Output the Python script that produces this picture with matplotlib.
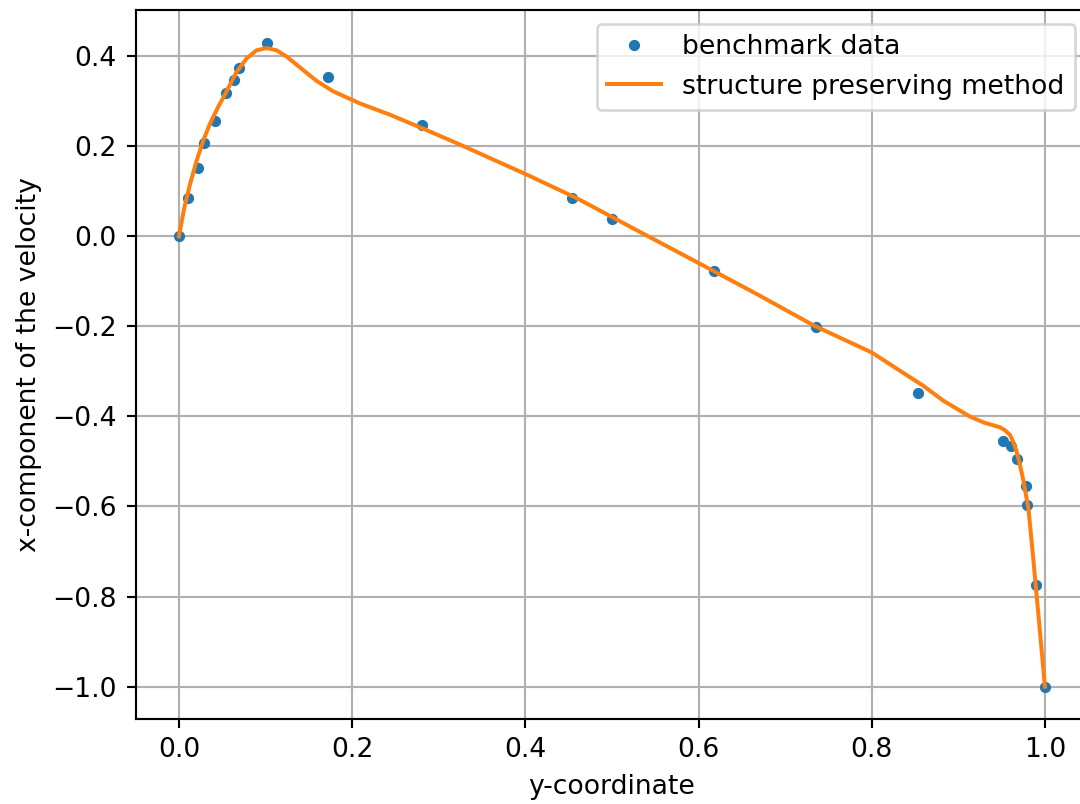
import matplotlib
matplotlib.use('Agg')
import matplotlib.pyplot as plt

# benchmark points
bench_y = [0.0, 0.0107, 0.0223, 0.0292, 0.0416, 0.0543, 0.0639, 0.0693, 0.1012,
           0.1717, 0.281, 0.4534, 0.5, 0.6178, 0.7356, 0.853,
           0.9519, 0.9604, 0.968, 0.9777, 0.9796, 0.990, 1.0]
bench_u = [0.0, 0.085, 0.151, 0.208, 0.255, 0.319, 0.348, 0.374, 0.430,
           0.354, 0.247, 0.085, 0.038, -0.076, -0.201, -0.349,
           -0.454, -0.465, -0.495, -0.554, -0.596, -0.775, -1.0]

# structure preserving method curve
method_y = [0.0, 0.006, 0.0127, 0.0204, 0.028, 0.0358, 0.0455, 0.0512, 0.059,
            0.0666, 0.0782, 0.0897, 0.1013, 0.1128, 0.1244, 0.1397, 0.159, 0.178,
            0.209, 0.2436, 0.282, 0.3206, 0.4015, 0.459, 0.532, 0.5997, 0.667,
            0.734, 0.80, 0.8595, 0.8826, 0.913, 0.930, 0.948, 0.954, 0.9596,
            0.963, 0.967, 0.971, 0.975, 0.981, 0.9865, 0.992, 0.9965, 1.0]
method_u = [0.0, 0.062, 0.115, 0.168, 0.212, 0.250, 0.288, 0.308, 0.337,
            0.365, 0.395, 0.413, 0.418, 0.413, 0.399, 0.375, 0.345, 0.322,
            0.295, 0.270, 0.239, 0.207, 0.137, 0.085, 0.010, -0.059, -0.128,
            -0.199, -0.258, -0.332, -0.365, -0.400, -0.414, -0.424, -0.431, -0.441,
            -0.455, -0.476, -0.506, -0.541, -0.605, -0.715, -0.830, -0.925, -1.0]

dpi = 192
fig = plt.figure(figsize=(1080 / dpi, 804 / dpi), dpi=dpi)
ax = fig.add_axes([0.1256, 0.106, 0.882, 0.881])

ax.plot(bench_y, bench_u, marker='o', linestyle='None', markersize=4.2,
        markeredgewidth=0, color='tab:blue', label='benchmark data')
ax.plot(method_y, method_u, color='tab:orange', label='structure preserving method')

ax.set_xlabel('y-coordinate')
ax.set_ylabel('x-component of the velocity')
ax.grid(True)
ax.legend(loc='upper right')

fig.savefig('out.png', dpi=dpi)
